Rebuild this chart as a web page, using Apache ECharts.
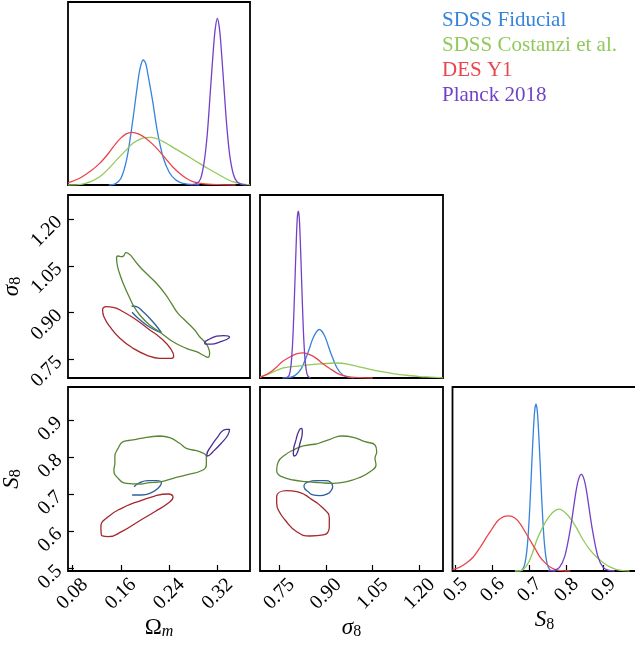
<!DOCTYPE html>
<html><head><meta charset="utf-8">
<script src="https://cdn.jsdelivr.net/npm/echarts@6/dist/echarts.min.js"></script>
<style>html,body{margin:0;padding:0;background:#fff}#c{width:635px;height:645px}</style>
</head><body><div id="c"></div>
<script>
// ---------- data ----------
const NAMES = ['SDSS Fiducial', 'SDSS Costanzi et al.', 'DES Y1', 'Planck 2018'];

const omTicks = [0.08, 0.16, 0.24, 0.32];
const sigTicks = [0.75, 0.90, 1.05, 1.20];
const s8Ticks = [0.5, 0.6, 0.7, 0.8, 0.9];

// 1D marginals: Omega_m
const fidOm = [[0.14,0],[0.15,0.005],[0.16,0.035],[0.17,0.145],[0.18,0.36],[0.188,0.56],[0.192,0.64],[0.197,0.683],[0.201,0.665],[0.205,0.6],[0.213,0.45],[0.22,0.3],[0.23,0.15],[0.24,0.07],[0.25,0.03],[0.26,0.012],[0.275,0.003],[0.29,0]];
const cosOm = [[0.0726,0],[0.09,0.002],[0.1,0.008],[0.11,0.018],[0.125,0.045],[0.14,0.09],[0.153,0.137],[0.167,0.185],[0.18,0.228],[0.195,0.255],[0.21,0.26],[0.222,0.25],[0.235,0.228],[0.249,0.2],[0.263,0.173],[0.277,0.145],[0.29,0.118],[0.304,0.09],[0.318,0.064],[0.332,0.038],[0.345,0.018],[0.36,0.006],[0.3736,0.001]];
const desOm = [[0.0726,0.012],[0.09,0.034],[0.11,0.077],[0.125,0.118],[0.14,0.175],[0.155,0.24],[0.168,0.278],[0.179,0.288],[0.19,0.278],[0.2,0.258],[0.213,0.222],[0.225,0.18],[0.235,0.14],[0.246,0.098],[0.257,0.064],[0.268,0.037],[0.279,0.019],[0.295,0.007],[0.32,0.002],[0.35,0]];
const plkOm = [[0.275,0],[0.285,0.008],[0.292,0.035],[0.298,0.13],[0.303,0.28],[0.308,0.51],[0.313,0.74],[0.316,0.85],[0.3195,0.911],[0.3225,0.87],[0.325,0.79],[0.33,0.56],[0.335,0.33],[0.34,0.165],[0.346,0.06],[0.352,0.018],[0.36,0.003],[0.368,0]];

// 1D marginals: sigma_8
const fidSig = [[0.76,0],[0.78,0.002],[0.8,0.013],[0.82,0.05],[0.84,0.129],[0.86,0.224],[0.8785,0.265],[0.895,0.232],[0.915,0.138],[0.935,0.056],[0.955,0.015],[0.975,0.003],[0.99,0]];
const cosSig = [[0.688,0.004],[0.72,0.025],[0.763,0.055],[0.8,0.064],[0.838,0.07],[0.88,0.077],[0.936,0.082],[0.97,0.076],[1.009,0.06],[1.045,0.046],[1.084,0.033],[1.12,0.023],[1.159,0.015],[1.2,0.008],[1.234,0.005],[1.2758,0.001]];
const desSig = [[0.688,0.005],[0.71,0.02],[0.73,0.043],[0.7417,0.06],[0.76,0.09],[0.784,0.115],[0.805,0.132],[0.827,0.137],[0.848,0.128],[0.87,0.106],[0.89,0.078],[0.913,0.051],[0.935,0.027],[0.9556,0.013],[0.98,0.005],[1.01,0.002],[1.05,0]];
const plkSig = [[0.77,0],[0.78,0.01],[0.785,0.038],[0.79,0.114],[0.795,0.273],[0.8,0.516],[0.805,0.77],[0.808,0.88],[0.811,0.912],[0.814,0.88],[0.817,0.77],[0.822,0.516],[0.827,0.273],[0.832,0.114],[0.837,0.038],[0.842,0.01],[0.85,0]];

// 1D marginals: S_8
const fidS8 = [[0.66,0],[0.672,0.001],[0.68,0.008],[0.687,0.04],[0.694,0.145],[0.7,0.333],[0.706,0.596],[0.711,0.8],[0.714,0.88],[0.717,0.907],[0.72,0.88],[0.723,0.8],[0.728,0.596],[0.734,0.333],[0.74,0.145],[0.747,0.04],[0.754,0.008],[0.762,0.001],[0.77,0]];
const cosS8 = [[0.66,0],[0.68,0.005],[0.695,0.04],[0.707,0.095],[0.719,0.167],[0.732,0.225],[0.746,0.276],[0.762,0.318],[0.78,0.336],[0.797,0.315],[0.8136,0.276],[0.83,0.222],[0.845,0.167],[0.863,0.115],[0.881,0.076],[0.899,0.045],[0.917,0.022],[0.935,0.008],[0.955,0.002],[0.97,0]];
const desS8 = [[0.4914,0.008],[0.51,0.02],[0.53,0.045],[0.5476,0.076],[0.565,0.125],[0.5838,0.185],[0.6,0.235],[0.615,0.276],[0.63,0.296],[0.644,0.3],[0.66,0.288],[0.674,0.258],[0.688,0.212],[0.701,0.167],[0.715,0.12],[0.728,0.076],[0.742,0.044],[0.755,0.022],[0.77,0.008],[0.79,0.001],[0.81,0]];
const plkS8 = [[0.75,0],[0.765,0.003],[0.78,0.018],[0.795,0.081],[0.81,0.23],[0.825,0.43],[0.832,0.498],[0.8395,0.525],[0.847,0.498],[0.854,0.43],[0.869,0.23],[0.884,0.081],[0.899,0.018],[0.914,0.003],[0.93,0]];

// 2D contours: Omega_m vs sigma_8
const fidOmSig = [[0.1777,0.9212],[0.1859,0.919],[0.1968,0.9029],[0.2078,0.8817],[0.2189,0.857],[0.2271,0.8354],[0.2161,0.8441],[0.2024,0.8602],[0.1885,0.8817],[0.1786,0.901]];
const cosOmSig = [[0.1803,1.0744],[0.1913,1.0474],[0.205,1.0208],[0.2189,0.9941],[0.2326,0.962],[0.2436,0.9299],[0.2545,0.8977],[0.2684,0.8708],[0.2821,0.8441],[0.2903,0.8226],[0.2986,0.8065],[0.304,0.7905],[0.3068,0.7693],[0.304,0.7564],[0.2986,0.7606],[0.2849,0.7744],[0.2684,0.7853],[0.2463,0.8065],[0.226,0.8354],[0.2078,0.8602],[0.1913,0.8923],[0.1803,0.9244],[0.1748,0.946],[0.165,0.9887],[0.1572,1.0294],[0.1535,1.06],[0.1529,1.0776],[0.1555,1.0818],[0.1612,1.0796],[0.1649,1.0828],[0.1682,1.0924],[0.172,1.0905],[0.1803,1.0744]];
const desOmSig = [[0.2078,0.8441],[0.2298,0.812],[0.2436,0.7799],[0.2474,0.7606],[0.2436,0.7532],[0.2243,0.7532],[0.2024,0.7638],[0.1803,0.7853],[0.1584,0.8175],[0.1419,0.8547],[0.132,0.8868],[0.1298,0.9083],[0.1364,0.919],[0.1473,0.917],[0.1638,0.9029],[0.1859,0.8762],[0.2078,0.8441]];
const plkOmSig = [[0.3183,0.8248],[0.3299,0.8264],[0.3398,0.8207],[0.3349,0.8136],[0.3233,0.8056],[0.3101,0.7991],[0.3002,0.7991],[0.2986,0.8033],[0.3068,0.8152],[0.3183,0.8248]];

// 2D contours: Omega_m vs S_8
const fidOmS8 = [[0.1819,0.7202],[0.1913,0.731],[0.205,0.7364],[0.2189,0.7364],[0.2271,0.731],[0.2215,0.7159],[0.2106,0.704],[0.1941,0.6978],[0.1786,0.6978]];
const cosOmS8 = [[0.2243,0.8571],[0.2408,0.8525],[0.2573,0.8374],[0.2684,0.8239],[0.2903,0.8147],[0.3014,0.8012],[0.3014,0.7788],[0.2958,0.7653],[0.2684,0.7518],[0.2463,0.7429],[0.2271,0.7337],[0.2078,0.731],[0.1913,0.7275],[0.1694,0.7294],[0.1555,0.7429],[0.1485,0.7653],[0.1501,0.7834],[0.1501,0.8012],[0.1555,0.8239],[0.1638,0.8417],[0.1803,0.8463],[0.2024,0.8536],[0.2243,0.8571]];
const desOmS8 = [[0.1885,0.6798],[0.2161,0.6951],[0.238,0.7005],[0.2463,0.6916],[0.238,0.6754],[0.2161,0.6528],[0.1885,0.6258],[0.1612,0.5988],[0.139,0.5853],[0.1292,0.5872],[0.1275,0.5935],[0.127,0.6123],[0.1391,0.6393],[0.1612,0.6619],[0.1885,0.6798]];
const plkOmS8 = [[0.3205,0.8552],[0.3344,0.8752],[0.3398,0.8752],[0.337,0.8598],[0.3261,0.8374],[0.3123,0.8147],[0.303,0.8031],[0.3022,0.8058],[0.3088,0.8282],[0.3205,0.8552]];

// 2D contours: sigma_8 vs S_8
const fidSigS8 = [[0.8701,0.7364],[0.9,0.7364],[0.9128,0.7337],[0.9215,0.7202],[0.915,0.7086],[0.9074,0.7024],[0.8807,0.6959],[0.855,0.6986],[0.8431,0.7067],[0.8325,0.714],[0.8293,0.7221],[0.8422,0.7329],[0.8701,0.7364]];
const cosSigS8 = [[0.8701,0.8355],[0.9128,0.8482],[0.9504,0.8571],[0.9877,0.8536],[1.0253,0.8417],[1.0574,0.8328],[1.0629,0.8147],[1.0574,0.7969],[1.0606,0.7788],[1.0413,0.7607],[1.0092,0.7456],[0.9665,0.7337],[0.9234,0.7294],[0.8807,0.731],[0.838,0.7337],[0.795,0.7383],[0.7577,0.7472],[0.7436,0.7564],[0.7416,0.7653],[0.7468,0.7877],[0.7683,0.8058],[0.795,0.8193],[0.8271,0.8301],[0.8701,0.8355]];
const desSigS8 = [[0.8486,0.6889],[0.8913,0.6619],[0.9106,0.635],[0.9106,0.6123],[0.8913,0.5899],[0.8486,0.5872],[0.8059,0.5988],[0.7683,0.6304],[0.7468,0.6573],[0.7416,0.6754],[0.7416,0.6932],[0.7738,0.7094],[0.8059,0.7067],[0.8486,0.6889]];
const plkSigS8 = [[0.8036,0.8463],[0.8142,0.8733],[0.822,0.8779],[0.8239,0.8687],[0.8165,0.8374],[0.8059,0.8085],[0.7982,0.8031],[0.795,0.8104],[0.8036,0.8463]];

// ---------- styling ----------
const FONT = 'Liberation Serif';
const LIGHT = ['#3583dd', '#92c95b', '#e8464b', '#7241c7'];
const DARK = ['#2b5f9f', '#5a8533', '#a5282d', '#4a2c90'];

const OM = [0.0726, 0.3736];
const SIGX = [0.688, 1.2758];
const SIGY = [0.69, 1.2777];
const S8X = [0.4914, 0.9887];
const S8Y = [0.4927, 0.9893];

const grids = [
  {left: 68, top: 2, width: 182, height: 183},
  {left: 68, top: 195, width: 182, height: 183},
  {left: 260, top: 195, width: 183, height: 183},
  {left: 68, top: 387, width: 182, height: 184},
  {left: 260, top: 387, width: 183, height: 184},
  {left: 452.5, top: 387, width: 184, height: 184}
].map(g => Object.assign(g, {show: true, borderColor: '#000', borderWidth: 1.8,
  backgroundColor: 'transparent', containLabel: false, outerBoundsMode: 'none'}));

function sub(main, s, italicMain, italicSub) {
  return {
    text: '{a|' + main + '}{b|' + s + '}',
    rich: {
      a: {fontFamily: FONT, fontSize: 23, lineHeight: 24, fontStyle: italicMain ? 'italic' : 'normal', color: '#000'},
      b: {fontFamily: FONT, fontSize: 16, lineHeight: 14, verticalAlign: 'bottom', fontStyle: italicSub ? 'italic' : 'normal', color: '#000'}
    }
  };
}

function axis(gi, range, ticks, digits, opts) {
  opts = opts || {};
  const a = {
    type: 'value', gridIndex: gi, min: range[0], max: range[1],
    axisLine: {show: false}, splitLine: {show: false}
  };
  if (ticks) {
    a.axisTick = {show: true, inside: true, length: 6, customValues: ticks, lineStyle: {color: '#000', width: 1.2}};
    a.axisLabel = Object.assign({show: true, customValues: ticks, rotate: 45,
      fontFamily: FONT, fontSize: 20, color: '#000',
      formatter: v => Number(v).toFixed(digits)}, opts.label || {});
  } else {
    a.axisTick = {show: false};
    a.axisLabel = {show: false};
  }
  if (opts.name) {
    a.name = opts.name.text;
    a.nameLocation = 'middle';
    a.nameGap = opts.nameGap;
    a.nameTextStyle = {rich: opts.name.rich};
  }
  return a;
}

const xLbl = m => ({align: 'center', verticalAlign: 'middle', margin: m});
const yLbl = {align: 'right', verticalAlign: 'middle', margin: 9, padding: [0, 0, 8, 0]};

const xAxes = [
  axis(0, OM),
  axis(1, OM),
  axis(2, SIGX),
  axis(3, OM, omTicks, 2, {label: xLbl(23), name: sub('Ω', 'm', false, true), nameGap: 43}),
  axis(4, SIGX, sigTicks, 2, {label: xLbl(23), name: sub('σ', '8', true, false), nameGap: 40}),
  axis(5, S8X, s8Ticks, 1, {label: xLbl(19), name: sub('S', '8', true, false), nameGap: 37})
];
const yAxes = [
  axis(0, [0, 1]),
  axis(1, SIGY, sigTicks, 2, {label: yLbl, name: sub('σ', '8', true, false), nameGap: 44}),
  axis(2, [0, 1]),
  axis(3, S8Y, s8Ticks, 1, {label: yLbl, name: sub('S', '8', true, false), nameGap: 44}),
  axis(4, S8Y),
  axis(5, [0, 1])
];

const panels = [
  {g: 0, dark: false, sets: [fidOm, cosOm, desOm, plkOm]},
  {g: 1, dark: true, sets: [fidOmSig, cosOmSig, desOmSig, plkOmSig]},
  {g: 2, dark: false, sets: [fidSig, cosSig, desSig, plkSig]},
  {g: 3, dark: true, sets: [fidOmS8, cosOmS8, desOmS8, plkOmS8]},
  {g: 4, dark: true, sets: [fidSigS8, cosSigS8, desSigS8, plkSigS8]},
  {g: 5, dark: false, sets: [fidS8, cosS8, desS8, plkS8]}
];

const series = [];
panels.forEach(p => p.sets.forEach((d, i) => series.push({
  type: 'line', name: NAMES[i], xAxisIndex: p.g, yAxisIndex: p.g, data: d,
  symbol: 'none', showSymbol: false, smooth: p.dark ? 0.5 : 0.3,
  lineStyle: {color: p.dark ? DARK[i] : LIGHT[i], width: 1.3},
  itemStyle: {color: LIGHT[i]}, silent: true, animation: false
})));

const chart = echarts.init(document.getElementById('c'), null, {renderer: 'canvas'});
chart.setOption({
  backgroundColor: '#fff',
  animation: false,
  grid: grids,
  xAxis: xAxes,
  yAxis: yAxes,
  legend: {
    show: true, orient: 'vertical', left: 437, top: 7.5, padding: 0, itemGap: 0,
    itemWidth: 0, itemHeight: 10, icon: 'none', selectedMode: false,
    textStyle: {fontFamily: FONT, fontSize: 21, lineHeight: 25},
    data: NAMES.map((n, i) => ({name: n, textStyle: {color: LIGHT[i]}}))
  },
  series: series
});
</script></body></html>
